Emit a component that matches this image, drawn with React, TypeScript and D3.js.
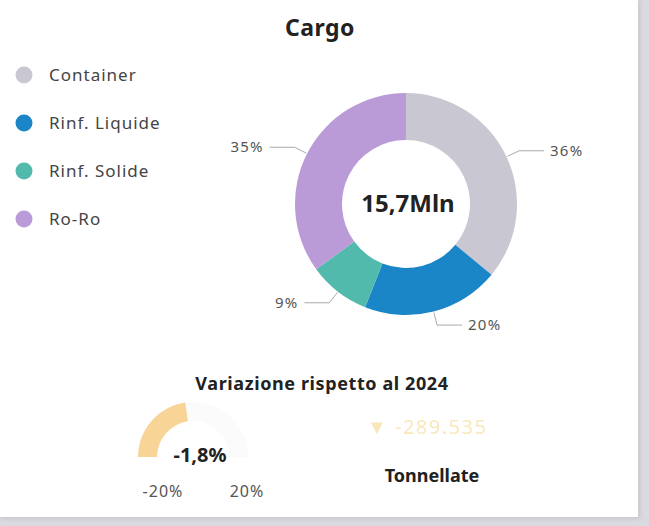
import React from "react";
import * as d3 from "d3";

const categories = ["Container", "Rinf. Liquide", "Rinf. Solide", "Ro-Ro"];
const shares = [36, 20, 9, 35];
const colors = ["#C9C7D2", "#1A86C8", "#52B9AD", "#BA9BD7"];
const totalLabel = "15,7Mln";
const gaugeMin = -20;
const gaugeMax = 20;
const gaugeValue = -1.8;
const gaugeValueLabel = "-1,8%";
const gaugeTickLabels = ["-20%", "20%"];
const deltaLabel = "▼ -289.535";

const W = 649;
const H = 526;

export default function App() {
  const cx = 406, cy = 204, rOut = 111, rIn = 64;
  const pie = d3.pie<number>().sort(null).value((d) => d)(shares);
  const arc = d3.arc<d3.PieArcDatum<number>>().innerRadius(rIn).outerRadius(rOut);
  const font = "'Noto Sans', sans-serif";

  const gx = 193, gy = 457, gOut = 55, gIn = 36;
  const gScale = d3.scaleLinear().domain([gaugeMin, gaugeMax]).range([-Math.PI / 2, Math.PI / 2]);
  const gArc = d3.arc().innerRadius(gIn).outerRadius(gOut);
  const legendY = d3.scalePoint<string>().domain(categories).range([75, 219]);

  return (
    <svg width={W} height={H} style={{ position: "absolute", left: 0, top: 0 }} fontFamily={font}>
      <defs>
        <filter id="sh" x="-5%" y="-5%" width="110%" height="110%">
          <feGaussianBlur stdDeviation="2" />
        </filter>
      </defs>
      <rect x={0} y={0} width={W} height={H} fill="#dcdae1" />
      <rect x={0} y={0} width={640} height={519} fill="#c9c7ce" filter="url(#sh)" />
      <rect x={0} y={0} width={638} height={517} fill="#ffffff" />

      <text x={320} y={36} textAnchor="middle" fontSize={23} fontWeight={700} fill="#222" letterSpacing={0.5}>Cargo</text>

      {categories.map((c, i) => (
        <g key={c} transform={`translate(0,${legendY(c)})`}>
          <circle cx={24} cy={0} r={8.5} fill={colors[i]} />
          <text x={49} y={6} fontSize={17} fill="#444" letterSpacing={1}>{c}</text>
        </g>
      ))}

      <g transform={`translate(${cx},${cy})`}>
        {pie.map((p, i) => (
          <path key={i} d={arc(p) || ""} fill={colors[i]} />
        ))}
        {pie.map((p, i) => {
          const a = (p.startAngle + p.endAngle) / 2;
          const s = Math.sin(a), c = -Math.cos(a);
          const p1 = [s * (rOut + 1), c * (rOut + 1)];
          const p2 = [s * (rOut + 14), c * (rOut + 14)];
          const dir = s >= 0 ? 1 : -1;
          const p3 = [p2[0] + dir * 25, p2[1]];
          return (
            <g key={"l" + i}>
              <polyline points={`${p1} ${p2} ${p3}`} fill="none" stroke="#a9a9a9" strokeWidth={1} />
              <text x={p3[0] + dir * 6} y={p3[1] + 5} textAnchor={dir > 0 ? "start" : "end"} fontSize={15} fill="#555" letterSpacing={1.2}>
                {shares[i]}%
              </text>
            </g>
          );
        })}
        <text x={2} y={8} textAnchor="middle" fontSize={24} fontWeight={700} fill="#222">{totalLabel}</text>
      </g>

      <text x={322} y={390} textAnchor="middle" fontSize={18} fontWeight={700} fill="#222" letterSpacing={0.6}>Variazione rispetto al 2024</text>

      <g transform={`translate(${gx},${gy})`}>
        <path d={gArc({ startAngle: gScale(gaugeValue), endAngle: gScale(gaugeMax) } as any) || ""} fill="#fbfbfb" />
        <path d={gArc({ startAngle: gScale(gaugeMin), endAngle: gScale(gaugeValue) } as any) || ""} fill="#F8D497" />
      </g>
      <text x={200} y={462} textAnchor="middle" fontSize={20} fontWeight={700} fill="#222">{gaugeValueLabel}</text>
      <text x={163} y={497} textAnchor="middle" fontSize={16} fill="#555" letterSpacing={1}>{gaugeTickLabels[0]}</text>
      <text x={247} y={497} textAnchor="middle" fontSize={16} fill="#555" letterSpacing={1}>{gaugeTickLabels[1]}</text>

      <text x={367} y={434} fontSize={20} fill="#F7D68F" opacity={0.6} letterSpacing={1.5}>{deltaLabel}</text>
      <text x={432} y={482} textAnchor="middle" fontSize={18} fontWeight={700} fill="#222">Tonnellate</text>
    </svg>
  );
}
